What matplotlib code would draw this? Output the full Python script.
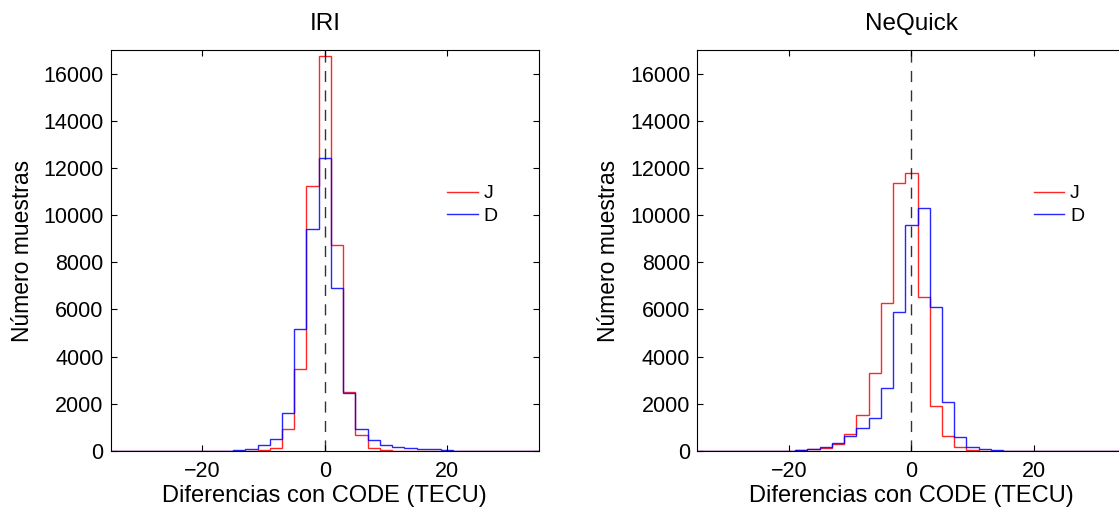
import numpy as np
import matplotlib as mpl
import matplotlib.pyplot as plt

# bin centres (TECU), 2 TECU wide
centros = np.arange(-34, 35, 2)
bordes = np.arange(-35, 36, 2)

# IRI - J (red) and D (blue) counts, bins -34 .. 34
iri_J = [0, 0, 0, 0, 0, 0, 0, 0, 0, 0,
         5, 10, 30, 140, 920, 3490, 11230, 16750, 8750, 2500,
         690, 140, 35, 10, 5, 0, 0, 0, 0, 0,
         0, 0, 0, 0, 0]
iri_D = [0, 0, 0, 0, 0, 0, 0, 0, 0, 15,
         57, 100, 240, 520, 1610, 5190, 9430, 12400, 6920, 2460,
         950, 480, 250, 155, 125, 85, 70, 40, 10, 0,
         0, 0, 0, 0, 0]

# NeQuick
neq_J = [0, 0, 0, 0, 0, 0, 0, 10, 30, 70,
         140, 310, 700, 1510, 3300, 6280, 11370, 11790, 6520, 1900,
         650, 190, 40, 10, 0, 0, 0, 0, 0, 0,
         0, 0, 0, 0, 0]
neq_D = [0, 0, 0, 0, 0, 0, 0, 10, 40, 85,
         170, 340, 630, 970, 1420, 2685, 5910, 9600, 10300, 6090,
         2090, 600, 180, 70, 40, 10, 0, 0, 0, 0,
         0, 0, 0, 0, 0]

titulos = ['IRI', 'NeQuick']
series = [(iri_J, iri_D), (neq_J, neq_D)]

plt.rcParams['font.family'] = 'Liberation Sans'
plt.rcParams['font.size'] = 15.5

fig = plt.figure(figsize=(11.19, 5.08), dpi=100)
posiciones = [[0.0989, 0.1122, 0.3828, 0.7894],
              [0.6231, 0.1122, 0.3828, 0.7894]]

for pos, titulo, (J, D) in zip(posiciones, titulos, series):
    ax = fig.add_axes(pos)
    ax.stairs(J, bordes, color='r', linewidth=1.0, alpha=0.85, label='J')
    ax.stairs(D, bordes, color='b', linewidth=1.0, alpha=0.85, label='D')
    ax.axvline(0, color='k', linestyle=(0, (8, 6)), linewidth=1.0, alpha=0.8)

    ax.set_xlim(-35, 35)
    ax.set_ylim(0, 17000)
    ax.set_xticks([-20, 0, 20])
    ax.set_xticklabels(['\u221220', '0', '20'])
    ax.set_yticks(np.arange(0, 16001, 2000))
    ax.tick_params(direction='in', length=4, width=0.8, top=True, right=True)
    ax.tick_params(axis='x', pad=7)
    ax.tick_params(axis='y', pad=5)
    for s in ax.spines.values():
        s.set_linewidth(0.8)

    ax.set_title(titulo, fontsize=17.5, pad=14.5)
    ax.set_xlabel('Diferencias con CODE (TECU)', fontsize=17, labelpad=2)
    ax.set_ylabel('Número muestras', fontsize=16.5, labelpad=7)
    ax.legend(loc='upper left', bbox_to_anchor=(0.786, 0.664), frameon=False,
              fontsize=14, borderpad=0, borderaxespad=0, handlelength=1.57,
              handletextpad=0.29, labelspacing=0.25)

fig.savefig('out.png', dpi=100)
